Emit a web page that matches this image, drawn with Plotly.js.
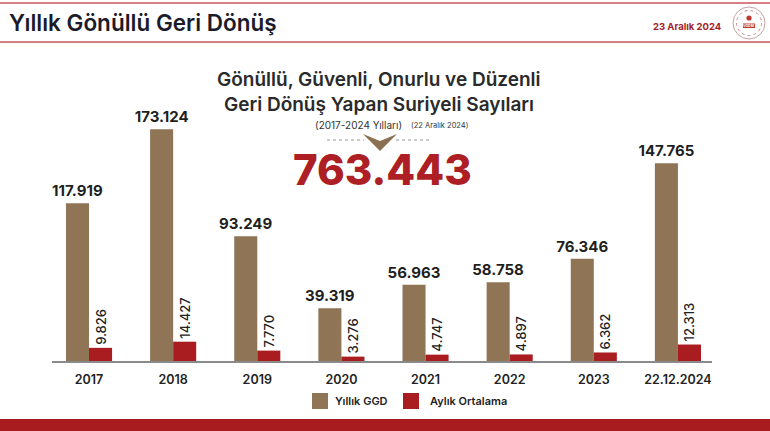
<!DOCTYPE html>
<html>
<head>
<meta charset="utf-8">
<script src="https://cdn.plot.ly/plotly-3.0.1.min.js"></script>
<style>html,body{margin:0;padding:0;background:#fff;}#chart{width:770px;height:431px;}</style>
</head>
<body>
<div id="chart"></div>
<script>
// ---- data ----
const categories = ['2017', '2018', '2019', '2020', '2021', '2022', '2023', '22.12.2024'];
const annualReturns = [117919, 173124, 93249, 39319, 56963, 58758, 76346, 147765];
const monthlyAverage = [9826, 14427, 7770, 3276, 4747, 4897, 6362, 12313];
const seriesNames = ['Yıllık GGD', 'Aylık Ortalama'];
const headerTitle = 'Yıllık Gönüllü Geri Dönüş';
const headerDate = '23 Aralık 2024';
const subTitle1 = 'Gönüllü, Güvenli, Onurlu ve Düzenli';
const subTitle2 = 'Geri Dönüş Yapan Suriyeli Sayıları';
const subTitle3 = '(2017-2024 Yılları)';
const subTitle4 = '(22 Aralık 2024)';

// ---- layout helpers (pixel -> paper) ----
const L = 52, R = 58, T = 100, B = 70, W = 770, H = 431;
const PW = W - L - R, PH = H - T - B;
const px = x => (x - L) / PW;
const py = y => (H - B - y) / PH;
const FONT = "Inter, 'Open Sans', sans-serif";
const BROWN = '#8f7556';
const RED = '#a91c1f';

const total = annualReturns.reduce((a, b) => a + b, 0);
const fmt = n => n.toString().replace(/\B(?=(\d{3})+(?!\d))/g, '.');

const traces = [
  {
    type: 'bar', name: seriesNames[0], x: categories, y: annualReturns,
    marker: {color: BROWN},
    text: annualReturns.map(fmt), textposition: 'outside',
    textfont: {family: FONT, size: 15, color: '#1f1f1f', weight: 700},
    constraintext: 'none', cliponaxis: false, hoverinfo: 'skip'
  },
  {
    type: 'bar', name: seriesNames[1], x: categories, y: monthlyAverage,
    marker: {color: RED},
    text: monthlyAverage.map(fmt), textposition: 'outside', textangle: -90,
    textfont: {family: FONT, size: 13, color: '#222', weight: 500},
    constraintext: 'none', cliponaxis: false, hoverinfo: 'skip'
  }
];

const ann = (text, x, y, size, opts = {}) => Object.assign({
  text, x: px(x), y: py(y), xref: 'paper', yref: 'paper', showarrow: false,
  xanchor: 'center', yanchor: 'middle',
  font: {family: FONT, size, color: '#222'}
}, opts);

const annotations = [
  ann(headerTitle, 7, 23, 22.5, {xanchor: 'left', font: {family: FONT, size: 22.5, color: '#1b1b2a', weight: 600}}),
  ann(headerDate, 723, 26, 9.5, {xanchor: 'right', font: {family: FONT, size: 9.5, color: '#a3222a', weight: 700}}),
  ann(subTitle1, 379, 79, 19, {font: {family: FONT, size: 19, color: '#2a2a2a', weight: 600}}),
  ann(subTitle2, 379, 104, 19, {font: {family: FONT, size: 19, color: '#2a2a2a', weight: 600}}),
  ann(subTitle3, 313, 125, 10, {xanchor: 'left', font: {family: FONT, size: 10, color: '#333'}}),
  ann(subTitle4, 409, 125, 7.5, {xanchor: 'left', font: {family: FONT, size: 7.5, color: '#333'}}),
  ann(fmt(total), 382, 169, 42, {font: {family: FONT, size: 42, color: '#ad1f24', weight: 800}}),
  ann(seriesNames[0], 333, 401, 11, {xanchor: 'left', font: {family: FONT, size: 11, color: '#222', weight: 600}}),
  ann(seriesNames[1], 428, 401, 11, {xanchor: 'left', font: {family: FONT, size: 11, color: '#222', weight: 600}}),
  ann('VGDM', 749, 25.5, 3.5, {font: {family: FONT, size: 3.5, color: '#fff', weight: 700}})
];

const rect = (x0, y0, x1, y1, color, line) => ({
  type: 'rect', xref: 'paper', yref: 'paper',
  x0: px(x0), x1: px(x1), y0: py(y0), y1: py(y1),
  fillcolor: color, line: line || {width: 0}, layer: 'above'
});
const hline = (x0, x1, y, color, width, dash) => ({
  type: 'line', xref: 'paper', yref: 'paper',
  x0: px(x0), x1: px(x1), y0: py(y), y1: py(y),
  line: {color, width, dash: dash || 'solid'}
});
const circle = (cx, cy, r, fill, line) => ({
  type: 'circle', xref: 'paper', yref: 'paper',
  x0: px(cx - r), x1: px(cx + r), y0: py(cy + r), y1: py(cy - r),
  fillcolor: fill, line: line
});
const pathPx = pts => 'M ' + pts.map(p => px(p[0]) + ' ' + py(p[1])).join(' L ') + ' Z';

const shapes = [
  hline(0, 770, 3, '#c9545e', 1.3),
  hline(0, 770, 42, '#c9545e', 1.3),
  rect(0, 419, 770, 432, '#a81c1f'),
  rect(312, 393, 328, 409, BROWN),
  rect(403, 393, 419, 409, RED),
  hline(327, 364, 140, '#9a9a9a', 1, 'dot'),
  hline(396, 432, 140, '#9a9a9a', 1, 'dot'),
  {type: 'path', xref: 'paper', yref: 'paper',
   path: pathPx([[363, 134], [380, 141], [397, 134], [380, 151]]),
   fillcolor: '#8b7152', line: {width: 0}},
  circle(749, 23, 16, '#ffffff', {color: '#c7a3a6', width: 1}),
  circle(749, 23, 12.5, 'rgba(0,0,0,0)', {color: '#c98a90', width: 1, dash: 'dot'}),
  circle(749, 18, 2.6, '#c0392b', {width: 0}),
  rect(743, 23.5, 755, 28, '#c0392b')
];

const layout = {
  width: W, height: H,
  margin: {l: L, r: R, t: T, b: B, pad: 0},
  paper_bgcolor: '#ffffff', plot_bgcolor: '#ffffff',
  showlegend: false,
  barmode: 'group', bargap: 0.452, bargroupgap: 0,
  font: {family: FONT},
  xaxis: {
    type: 'category', range: [-0.44, 7.405], fixedrange: true,
    showline: true, linecolor: '#8a8a8a', linewidth: 1.5,
    showgrid: false, zeroline: false, ticks: '',
    tickfont: {family: FONT, size: 12.5, color: '#222', weight: 600},
    ticklabelstandoff: 6
  },
  yaxis: {
    range: [0, 195000], visible: false, showgrid: false, zeroline: false, fixedrange: true
  },
  annotations, shapes
};

Plotly.newPlot('chart', traces, layout, {displayModeBar: false, staticPlot: true});
</script>
</body>
</html>
